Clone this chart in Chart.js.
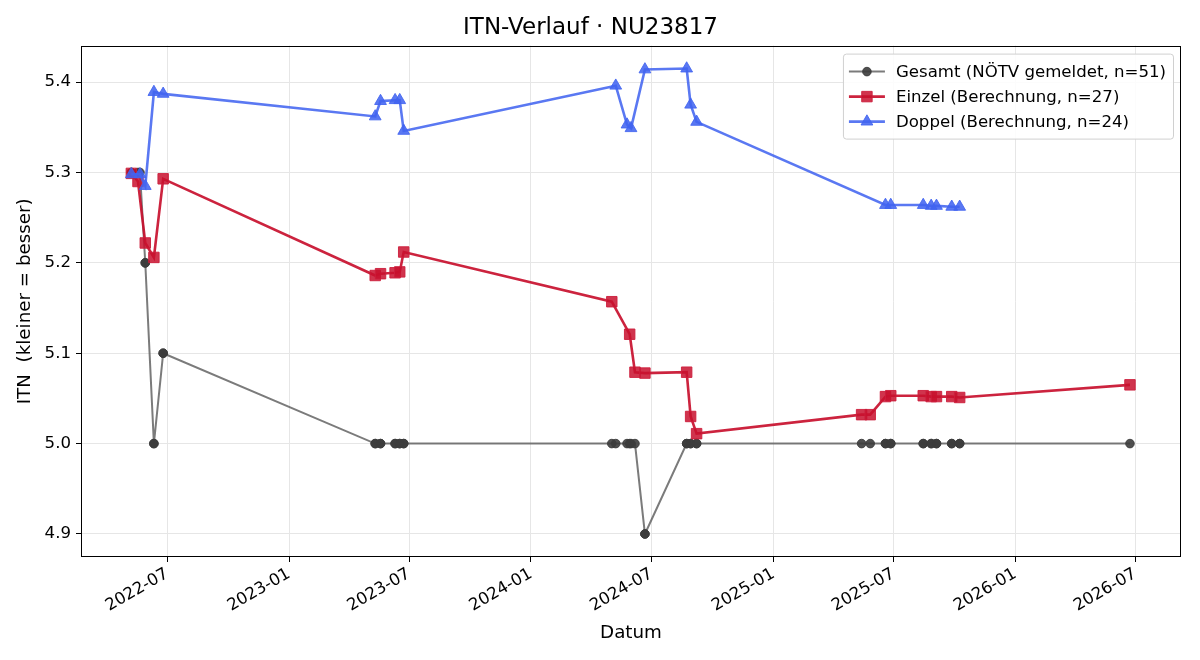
<!DOCTYPE html>
<html>
<head>
<meta charset="utf-8">
<title>ITN-Verlauf</title>
<script src="https://cdn.jsdelivr.net/npm/chart.js@4.4.1/dist/chart.umd.min.js"></script>
<style>
    html, body { margin: 0; padding: 0; background: #fff; }
</style>
</head>
<body>
<canvas id="itnChart" width="1200" height="660"></canvas>
<script>
// Gesamt: reported ITN, one point per match (single and double)
const gesamtDates = [
    '2022-05-08', '2022-05-08', '2022-05-18', '2022-05-21', '2022-05-29', '2022-05-29',
    '2022-06-11', '2022-06-11', '2022-06-25', '2022-06-25',
    '2023-05-11', '2023-05-11', '2023-05-19', '2023-05-19', '2023-06-10', '2023-06-10',
    '2023-06-17', '2023-06-17', '2023-06-23', '2023-06-23',
    '2024-05-02', '2024-05-08', '2024-05-25', '2024-05-29', '2024-05-31', '2024-06-06',
    '2024-06-21', '2024-06-21', '2024-08-23', '2024-08-23', '2024-08-29', '2024-08-29',
    '2024-09-07', '2024-09-07',
    '2025-05-14', '2025-05-27', '2025-06-19', '2025-06-19', '2025-06-27', '2025-06-27',
    '2025-08-15', '2025-08-15', '2025-08-27', '2025-08-27', '2025-09-04', '2025-09-04',
    '2025-09-27', '2025-09-27', '2025-10-09', '2025-10-09',
    '2026-06-23'
];
const gesamtValues = [
    5.3, 5.3, 5.3, 5.3, 5.2, 5.2,
    5.0, 5.0, 5.1, 5.1,
    5.0, 5.0, 5.0, 5.0, 5.0, 5.0,
    5.0, 5.0, 5.0, 5.0,
    5.0, 5.0, 5.0, 5.0, 5.0, 5.0,
    4.9, 4.9, 5.0, 5.0, 5.0, 5.0,
    5.0, 5.0,
    5.0, 5.0, 5.0, 5.0, 5.0, 5.0,
    5.0, 5.0, 5.0, 5.0, 5.0, 5.0,
    5.0, 5.0, 5.0, 5.0,
    5.0
];

// Einzel: calculated ITN after singles
const einzelDates = [
    '2022-05-08', '2022-05-18', '2022-05-29', '2022-06-11', '2022-06-25',
    '2023-05-11', '2023-05-19', '2023-06-10', '2023-06-17', '2023-06-23',
    '2024-05-02', '2024-05-29', '2024-06-06', '2024-06-21', '2024-08-23', '2024-08-29', '2024-09-07',
    '2025-05-14', '2025-05-27', '2025-06-19', '2025-06-27', '2025-08-15', '2025-08-27',
    '2025-09-04', '2025-09-27', '2025-10-09',
    '2026-06-23'
];
const einzelValues = [
    5.299, 5.290, 5.222, 5.206, 5.293,
    5.186, 5.188, 5.189, 5.190, 5.212,
    5.157, 5.121, 5.079, 5.078, 5.079, 5.030, 5.011,
    5.032, 5.032, 5.052, 5.053, 5.053, 5.052,
    5.052, 5.052, 5.051,
    5.065
];

// Doppel: calculated ITN after doubles
const doppelDates = [
    '2022-05-08', '2022-05-21', '2022-05-29', '2022-06-11', '2022-06-25',
    '2023-05-11', '2023-05-19', '2023-06-10', '2023-06-17', '2023-06-23',
    '2024-05-08', '2024-05-25', '2024-05-31', '2024-06-21', '2024-08-23', '2024-08-29', '2024-09-07',
    '2025-06-19', '2025-06-27', '2025-08-15', '2025-08-27', '2025-09-04', '2025-09-27', '2025-10-09'
];
const doppelValues = [
    5.298, 5.298, 5.285, 5.389, 5.387,
    5.362, 5.379, 5.380, 5.380, 5.346,
    5.396, 5.353, 5.349, 5.414, 5.415, 5.375, 5.356,
    5.264, 5.264, 5.264, 5.263, 5.263, 5.262, 5.262
];

const seriesLabels = [
    'Gesamt (NÖTV gemeldet, n=51)',
    'Einzel (Berechnung, n=27)',
    'Doppel (Berechnung, n=24)'
];

const xTickLabels = ['2022-07', '2023-01', '2023-07', '2024-01', '2024-07', '2025-01', '2025-07', '2026-01', '2026-07'];
const yTicks = [4.9, 5.0, 5.1, 5.2, 5.3, 5.4];

const xMin = Date.parse('2022-02-21');
const xMax = Date.parse('2026-09-08');

function toPoints(dates, values) {
    return dates.map((d, i) => ({ x: Date.parse(d), y: values[i] }));
}

// Frame around the plot area (all four sides, like the reference)
const frame = {
    id: 'frame',
    afterDatasetsDraw(chart) {
        const { ctx, chartArea: a } = chart;
        ctx.save();
        ctx.strokeStyle = '#000';
        ctx.lineWidth = 1;
        ctx.strokeRect(Math.round(a.left) + 0.5, Math.round(a.top) + 0.5,
            Math.round(a.right - a.left) - 1, Math.round(a.bottom - a.top) - 1);
        ctx.restore();
    }
};

// Legend drawn as line + marker, in a framed box at the top right
const legendBox = {
    id: 'legendBox',
    afterDraw(chart) {
        const { ctx, chartArea: a } = chart;
        ctx.save();
        ctx.font = '16.6px "DejaVu Sans"';
        const textW = Math.max(...seriesLabels.map(t => ctx.measureText(t).width));
        const w = textW + 60;
        const h = 85;
        const right = a.right - 8;
        const left = right - w;
        const top = a.top + 8;

        ctx.beginPath();
        ctx.roundRect(left + 0.5, top + 0.5, w, h, 3);
        ctx.fillStyle = 'rgba(255,255,255,0.85)';
        ctx.fill();
        ctx.strokeStyle = '#d0d0d0';
        ctx.lineWidth = 1;
        ctx.stroke();

        chart.data.datasets.forEach((ds, row) => {
            const y = top + 18 + row * 25;
            ctx.strokeStyle = ds.borderColor;
            ctx.lineWidth = ds.borderWidth;
            ctx.beginPath();
            ctx.moveTo(left + 6, y);
            ctx.lineTo(left + 42, y);
            ctx.stroke();

            ctx.fillStyle = ds.pointBackgroundColor;
            ctx.strokeStyle = ds.pointBorderColor;
            ctx.lineWidth = 1;
            Chart.helpers.drawPoint(ctx, {
                pointStyle: ds.pointStyle,
                radius: ds.pointRadius,
                rotation: 0,
                borderWidth: 1
            }, left + 24, y);

            ctx.fillStyle = '#000';
            ctx.textBaseline = 'middle';
            ctx.textAlign = 'left';
            ctx.fillText(seriesLabels[row], left + 53, y + 1);
        });
        ctx.restore();
    }
};

Chart.defaults.font.family = '"DejaVu Sans", "Liberation Sans", sans-serif';
Chart.defaults.font.size = 16.6;
Chart.defaults.color = '#000';

const ctx = document.getElementById('itnChart').getContext('2d');
const chart = new Chart(ctx, {
    type: 'line',
    data: {
        datasets: [
            {
                label: seriesLabels[0],
                data: toPoints(gesamtDates, gesamtValues),
                borderColor: 'rgba(90,90,90,0.8)',
                borderWidth: 2,
                pointStyle: 'circle',
                pointRadius: 4.3,
                pointBackgroundColor: 'rgba(60,60,60,0.9)',
                pointBorderColor: 'rgba(60,60,60,0.9)',
                pointBorderWidth: 1,
                tension: 0,
                order: 3
            },
            {
                label: seriesLabels[1],
                data: toPoints(einzelDates, einzelValues),
                borderColor: 'rgba(200,16,46,0.92)',
                borderWidth: 2.6,
                pointStyle: 'rect',
                pointRadius: 7.4,
                pointBackgroundColor: 'rgba(200,16,46,0.85)',
                pointBorderColor: 'rgba(205,30,60,0.9)',
                pointBorderWidth: 1,
                tension: 0,
                order: 2
            },
            {
                label: seriesLabels[2],
                data: toPoints(doppelDates, doppelValues),
                borderColor: 'rgba(65,100,240,0.87)',
                borderWidth: 2.6,
                pointStyle: 'triangle',
                pointRadius: 6.8,
                pointBackgroundColor: 'rgba(65,100,240,0.87)',
                pointBorderColor: 'rgba(65,100,240,0.87)',
                pointBorderWidth: 1,
                tension: 0,
                order: 1
            }
        ]
    },
    options: {
        responsive: false,
        animation: false,
        layout: { padding: { left: 0, right: 19, top: 0, bottom: 0 } },
        plugins: {
            legend: { display: false },
            tooltip: { enabled: false },
            title: {
                display: true,
                text: 'ITN-Verlauf · NU23817',
                font: { size: 23, weight: 'normal' },
                color: '#000',
                padding: { top: 14, bottom: 4 }
            }
        },
        scales: {
            x: {
                type: 'linear',
                min: xMin,
                max: xMax,
                afterBuildTicks: (scale) => {
                    scale.ticks = xTickLabels.map(l => ({ value: Date.parse(l + '-01') }));
                },
                afterFit: (scale) => { scale.height = 103; },
                ticks: {
                    autoSkip: false,
                    minRotation: 30,
                    maxRotation: 30,
                    padding: 2,
                    callback: (value, index) => xTickLabels[index]
                },
                grid: {
                    color: '#e6e6e6',
                    tickColor: '#000',
                    tickLength: 5
                },
                border: { display: false },
                title: {
                    display: true,
                    text: 'Datum',
                    font: { size: 18.3 },
                    padding: { top: 0, bottom: 16 }
                }
            },
            y: {
                min: 4.8745,
                max: 5.4404,
                afterBuildTicks: (scale) => {
                    scale.ticks = yTicks.map(v => ({ value: v }));
                },
                afterFit: (scale) => { scale.width = 81; },
                ticks: {
                    padding: 5,
                    callback: (value) => value.toFixed(1)
                },
                grid: {
                    color: '#e6e6e6',
                    tickColor: '#000',
                    tickLength: 5
                },
                border: { display: false },
                title: {
                    display: true,
                    text: 'ITN  (kleiner = besser)',
                    font: { size: 18.3 },
                    padding: { top: 14, bottom: 0 }
                }
            }
        }
    },
    plugins: [frame, legendBox]
});
</script>
</body>
</html>
